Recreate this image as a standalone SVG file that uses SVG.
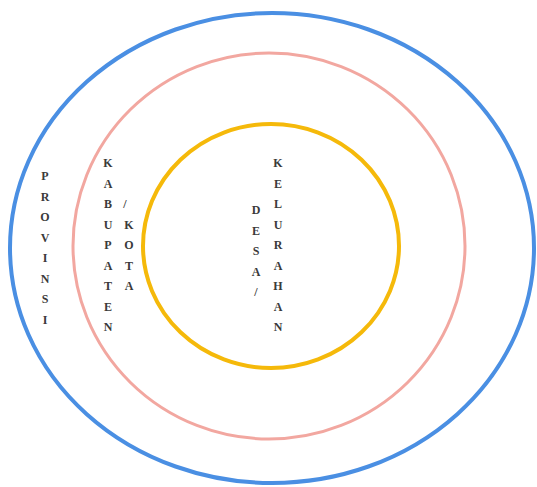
<svg xmlns="http://www.w3.org/2000/svg" width="537" height="487" viewBox="0 0 537 487">
<style>
.ring{fill:none}
.lbl{font-family:"Liberation Serif","DejaVu Serif",serif;font-size:12px;fill:#3a3a3a;text-anchor:middle;font-weight:bold}
</style>
<rect width="537" height="487" fill="#ffffff"/>
<g id="provinsi">
<ellipse class="ring" cx="272" cy="248" rx="262" ry="235" stroke="#4a8fe3" stroke-width="4"/>
<text class="lbl"><tspan x="45" y="180">P</tspan><tspan x="45" dy="20.5">R</tspan><tspan x="45" dy="20.5">O</tspan><tspan x="45" dy="20.5">V</tspan><tspan x="45" dy="20.5">I</tspan><tspan x="45" dy="20.5">N</tspan><tspan x="45" dy="20.5">S</tspan><tspan x="45" dy="20.5">I</tspan></text>
</g>
<g id="kabupaten">
<ellipse class="ring" cx="269" cy="246" rx="196" ry="193" stroke="#f2a7a0" stroke-width="3"/>
<text class="lbl"><tspan x="108" y="167">K</tspan><tspan x="108" dy="20.5">A</tspan><tspan x="108" dy="20.5">B</tspan><tspan x="108" dy="20.5">U</tspan><tspan x="108" dy="20.5">P</tspan><tspan x="108" dy="20.5">A</tspan><tspan x="108" dy="20.5">T</tspan><tspan x="108" dy="20.5">E</tspan><tspan x="108" dy="20.5">N</tspan></text>
<text class="lbl"><tspan x="125" y="208">/</tspan><tspan x="129" dy="20.5">K</tspan><tspan x="129" dy="20.5">O</tspan><tspan x="129" dy="20.5">T</tspan><tspan x="129" dy="20.5">A</tspan></text>
</g>
<g id="desa">
<ellipse class="ring" cx="271" cy="246" rx="128" ry="122" stroke="#f5b90a" stroke-width="4"/>
<text class="lbl"><tspan x="256" y="214">D</tspan><tspan x="256" dy="20.5">E</tspan><tspan x="256" dy="20.5">S</tspan><tspan x="256" dy="20.5">A</tspan><tspan x="256" dy="20.5">/</tspan></text>
<text class="lbl"><tspan x="278" y="167">K</tspan><tspan x="278" dy="20.5">E</tspan><tspan x="278" dy="20.5">L</tspan><tspan x="278" dy="20.5">U</tspan><tspan x="278" dy="20.5">R</tspan><tspan x="278" dy="20.5">A</tspan><tspan x="278" dy="20.5">H</tspan><tspan x="278" dy="20.5">A</tspan><tspan x="278" dy="20.5">N</tspan></text>
</g>
<g id="connectors"></g>
</svg>
